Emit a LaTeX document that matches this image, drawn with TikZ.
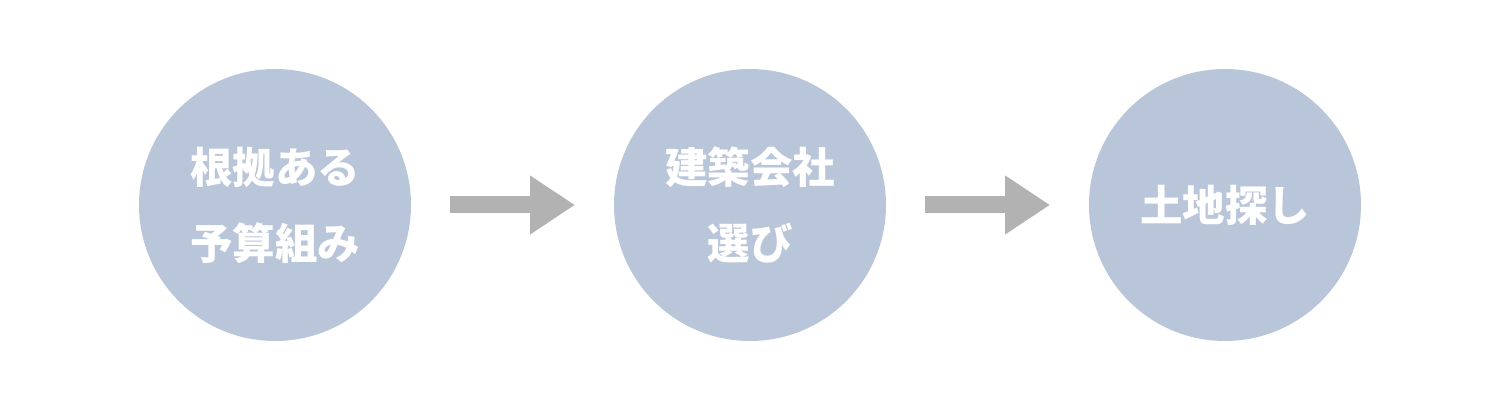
\documentclass[tikz,border=0pt]{standalone}
\usepackage{fontspec}
\newfontfamily\jpfont{Noto Sans CJK JP}[BoldFont={Noto Sans CJK JP Black}]
\usetikzlibrary{arrows.meta}
\definecolor{stepblue}{RGB}{185,198,217}
\definecolor{arrowgray}{RGB}{178,178,178}
\tikzset{
  stepcircle/.style={circle, fill=stepblue, minimum size=272pt, inner sep=0pt, outer sep=0pt,
    text=white, align=center, font=\jpfont\bfseries\fontsize{42.5}{76}\selectfont},
  steparrow/.style={draw=arrowgray, line width=17pt, -{Triangle[length=45pt,width=56pt]},
    shorten <=39pt, shorten >=39pt}
}
\begin{document}
\begin{tikzpicture}[x=1pt,y=1pt]
      \def\midy{205}
      \useasboundingbox (0,0) rectangle (1500,410);

      \node[stepcircle] (budget) at (275,\midy) {根拠ある\\予算組み};
      \node[stepcircle] (builder) at (750,\midy) {建築会社\\選び};
      \node[stepcircle] (land) at (1225,\midy) {土地探し};

      \draw[steparrow] (budget.east) -- (builder.west);
      \draw[steparrow] (builder.east) -- (land.west);
    \end{tikzpicture}
\end{document}
